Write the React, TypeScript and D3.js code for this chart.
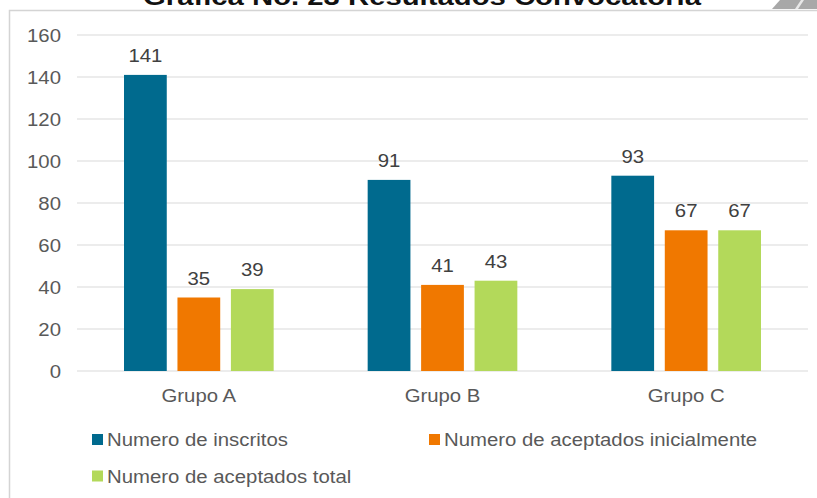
import { useEffect, useRef } from 'react'
import * as d3 from 'd3'

const categories = ['Grupo A', 'Grupo B', 'Grupo C']
const seriesNames = ['Numero de inscritos', 'Numero de aceptados inicialmente', 'Numero de aceptados total']
const inscritos = [141, 91, 93]
const aceptadosIni = [35, 41, 67]
const aceptadosTotal = [39, 43, 67]
const yTicks = [0, 20, 40, 60, 80, 100, 120, 140, 160]
const colors = ['#006a8e', '#f07800', '#b3d95a']

const W = 817
const H = 498
const FONT = 'Liberation Sans, Arial, sans-serif'
const FS = 18.5
const STRETCH = 1.1

export default function App() {
  const svgRef = useRef<SVGSVGElement>(null)

  useEffect(() => {
    if (!svgRef.current) return
    const svg = d3.select(svgRef.current)
    svg.selectAll('*').remove()

    const series = [inscritos, aceptadosIni, aceptadosTotal]

    // the source picture was stretched sideways, so text is too
    const label = (parent: any, x: number, y: number, txt: string | number, anchor = 'start', fill = '#595959') =>
      parent.append('text')
        .attr('transform', `translate(${x},${y}) scale(${STRETCH},1)`)
        .attr('text-anchor', anchor)
        .attr('font-family', FONT).attr('font-size', FS)
        .attr('fill', fill)
        .text(txt)

    // frame of the chart area (cropped at top/right)
    svg.append('path')
      .attr('d', `M9.5,${H} L9.5,10.5 L${W},10.5`)
      .attr('fill', 'none').attr('stroke', '#d4d4d4').attr('stroke-width', 1.5)

    // cropped title
    svg.append('text')
      .attr('transform', `translate(422,5) scale(1.22,1)`)
      .attr('text-anchor', 'middle')
      .attr('font-family', FONT).attr('font-weight', 'bold').attr('font-size', 24)
      .attr('fill', '#111')
      .text('Gráfica No. 23 Resultados Convocatoria')

    // bit of a logo poking in at top right
    svg.append('path')
      .attr('d', 'M772,9 L780,0 L817,0 L817,9 Z')
      .attr('fill', '#a8a8a8')
    svg.append('path')
      .attr('d', 'M795,9 L801,0 L804,0 L798,9 Z')
      .attr('fill', '#e8e8e8')

    const x0 = d3.scaleBand().domain(categories).range([77, 808]).paddingInner(0).paddingOuter(0)
    const x1 = d3.scaleBand<number>().domain([0, 1, 2]).range([47, x0.bandwidth() - 47]).paddingInner(0.2)
    const y = d3.scaleLinear().domain([0, 160]).range([371, 35])

    const g = svg.append('g')

    g.selectAll('line.grid')
      .data(yTicks)
      .join('line')
      .attr('class', 'grid')
      .attr('x1', 77).attr('x2', 808)
      .attr('y1', d => y(d)).attr('y2', d => y(d))
      .attr('stroke', '#d9d9d9').attr('stroke-width', 1)

    yTicks.forEach(t => label(g, 61, y(t) + 6.5, t, 'end'))

    categories.forEach((cat, ci) => {
      const gx = x0(cat) ?? 0
      series.forEach((vals, si) => {
        const bx = gx + (x1(si) ?? 0)
        g.append('rect')
          .attr('x', bx).attr('width', x1.bandwidth())
          .attr('y', y(vals[ci])).attr('height', y(0) - y(vals[ci]))
          .attr('fill', colors[si])
        label(g, bx + x1.bandwidth() / 2, y(vals[ci]) - 13, vals[ci], 'middle', '#404040')
      })
      label(g, gx + x0.bandwidth() / 2, 401.5, cat, 'middle')
    })

    // legend
    const legendPos = [[92, 439.5], [429, 439.5], [92, 476]]
    seriesNames.forEach((name, i) => {
      const [lx, ly] = legendPos[i]
      svg.append('rect')
        .attr('x', lx).attr('y', ly - 5.5).attr('width', 11).attr('height', 11)
        .attr('fill', colors[i])
      label(svg, lx + 15, ly + 6.5, name)
    })
  }, [])

  return (
    <svg ref={svgRef} width={W} height={H}
      style={{ position: 'absolute', left: 0, top: 0, display: 'block', background: '#fff' }} />
  )
}
